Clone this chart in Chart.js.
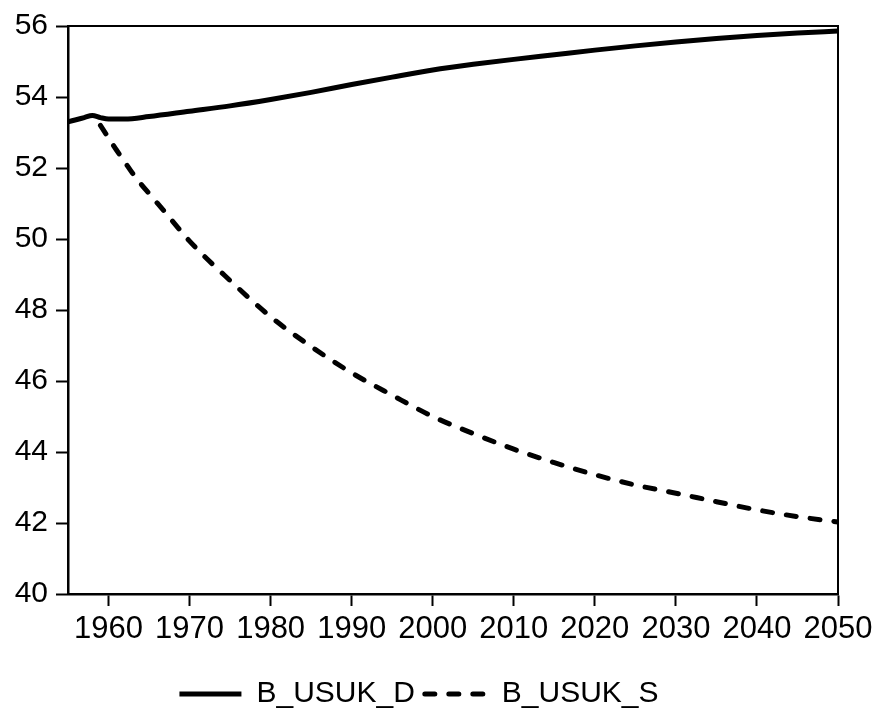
<!DOCTYPE html>
<html>
<head>
<meta charset="utf-8">
<script src="https://cdn.jsdelivr.net/npm/chart.js@4.4.1/dist/chart.umd.min.js"></script>
<style>
  html, body { margin: 0; padding: 0; background: #fff; }
  #wrap { width: 879px; height: 719px; }
</style>
</head>
<body>
<div id="wrap"><canvas id="chart" width="879" height="719"></canvas></div>
<script>
// B_USUK_D (solid)
const yearsD = [1955, 1956, 1957, 1958, 1959, 1960, 1962, 1965, 1970, 1975, 1980, 1985, 1990, 1995, 2000, 2005, 2010, 2015, 2020, 2025, 2030, 2035, 2040, 2045, 2050];
const valuesD = [53.30, 53.36, 53.42, 53.48, 53.42, 53.38, 53.38, 53.45, 53.60, 53.75, 53.93, 54.13, 54.35, 54.56, 54.76, 54.92, 55.06, 55.19, 55.32, 55.44, 55.55, 55.65, 55.73, 55.80, 55.86];

// B_USUK_S (dashed)
const yearsS = [1959, 1960, 1961, 1962, 1963, 1964, 1965, 1967, 1970, 1975, 1980, 1985, 1990, 1995, 2000, 2005, 2010, 2015, 2020, 2025, 2030, 2035, 2040, 2045, 2050];
const valuesS = [53.20, 52.85, 52.50, 52.17, 51.84, 51.55, 51.28, 50.75, 49.94, 48.83, 47.81, 46.97, 46.23, 45.60, 45.00, 44.52, 44.08, 43.70, 43.36, 43.07, 42.84, 42.60, 42.37, 42.18, 42.03];

const xTicks = [1960, 1970, 1980, 1990, 2000, 2010, 2020, 2030, 2040, 2050];
const yTicks = [40, 42, 44, 46, 48, 50, 52, 54, 56];

const FONT = '"Liberation Sans", Arial, Helvetica, sans-serif';

const toPoints = (xs, ys) => xs.map((x, i) => ({ x: x, y: ys[i] }));

// top and right edges of the plot box
const frame = {
  id: 'frame',
  afterDatasetsDraw(chart) {
    const { ctx, chartArea: a } = chart;
    ctx.save();
    ctx.strokeStyle = '#000';
    ctx.lineWidth = 2;
    ctx.beginPath();
    ctx.moveTo(a.left, a.top);
    ctx.lineTo(a.right, a.top);
    ctx.lineTo(a.right, a.bottom);
    ctx.stroke();
    ctx.restore();
  }
};

const axisGrid = {
  display: true,
  drawOnChartArea: false,
  drawTicks: true,
  tickLength: 12,
  tickWidth: 2,
  tickColor: '#000',
  color: '#000'
};

new Chart(document.getElementById('chart').getContext('2d'), {
  type: 'line',
  data: {
    datasets: [
      {
        label: 'B_USUK_D',
        data: toPoints(yearsD, valuesD),
        borderColor: '#000',
        backgroundColor: '#000',
        borderWidth: 5,
        pointRadius: 0,
        cubicInterpolationMode: 'monotone',
        fill: false
      },
      {
        label: 'B_USUK_S',
        data: toPoints(yearsS, valuesS),
        borderColor: '#000',
        backgroundColor: '#000',
        borderWidth: 5,
        borderDash: [10, 14],
        borderCapStyle: 'round',
        pointRadius: 0,
        cubicInterpolationMode: 'monotone',
        fill: false
      }
    ]
  },
  options: {
    responsive: false,
    animation: false,
    devicePixelRatio: 1,
    layout: { padding: { top: 22, right: 41, left: 0, bottom: 0 } },
    plugins: {
      tooltip: { enabled: false },
      legend: {
        position: 'bottom',
        labels: {
          usePointStyle: true,
          pointStyleWidth: 62,
          color: '#000',
          padding: 10,
          font: { family: FONT, size: 30 },
          generateLabels: chart => Chart.defaults.plugins.legend.labels.generateLabels(chart).map((item, i) => {
            const ds = chart.data.datasets[i];
            item.pointStyle = 'line';
            item.lineDash = ds.borderDash || [];
            item.lineCap = ds.borderCapStyle || 'butt';
            item.lineWidth = ds.borderWidth;
            item.strokeStyle = ds.borderColor;
            return item;
          })
        }
      }
    },
    scales: {
      x: {
        type: 'linear',
        min: 1955,
        max: 2050,
        afterBuildTicks: s => { s.ticks = xTicks.map(v => ({ value: v })); },
        afterFit: s => { s.height = 75; },
        border: { display: true, color: '#000', width: 2.5 },
        grid: axisGrid,
        ticks: {
          color: '#000',
          padding: 5,
          maxRotation: 0,
          autoSkip: false,
          font: { family: FONT, size: 31 },
          callback: v => String(v)
        }
      },
      y: {
        type: 'linear',
        min: 40,
        max: 56,
        afterBuildTicks: s => { s.ticks = yTicks.map(v => ({ value: v })); },
        afterFit: s => { s.width = 68; },
        border: { display: true, color: '#000', width: 2.5 },
        grid: axisGrid,
        ticks: {
          color: '#000',
          padding: 8,
          font: { family: FONT, size: 30 },
          callback: v => String(v)
        }
      }
    }
  },
  plugins: [frame]
});
</script>
</body>
</html>
